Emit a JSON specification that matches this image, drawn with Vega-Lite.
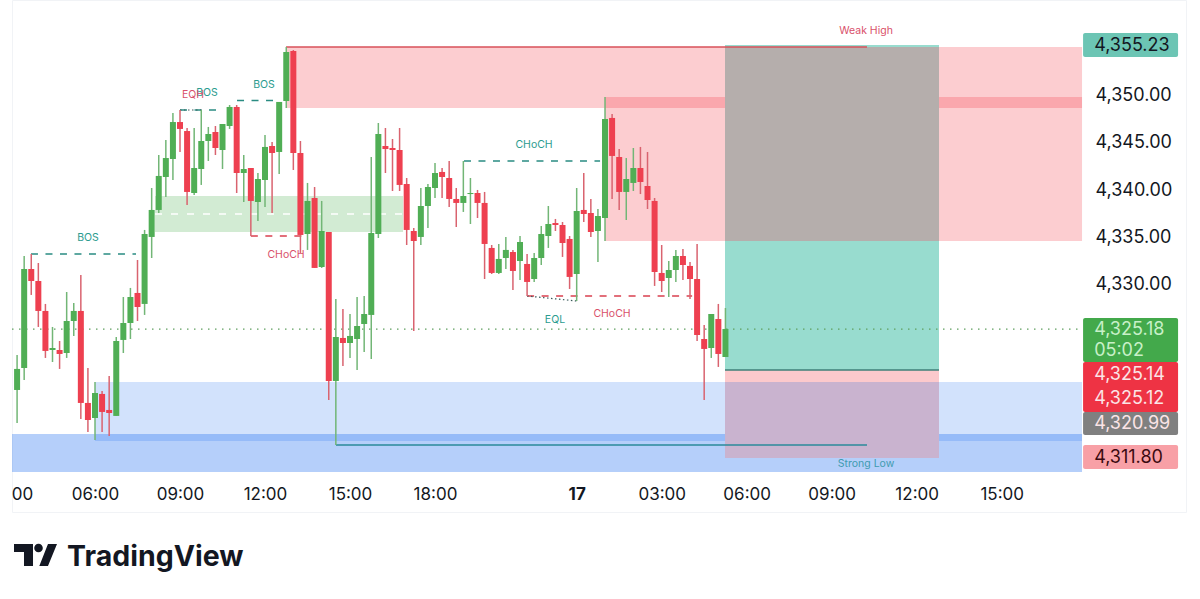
{"$schema":"https://vega.github.io/schema/vega-lite/v6.json","width":1174,"height":512,"autosize":"none","padding":{"left":12,"top":0,"right":14,"bottom":87},"background":"#ffffff","config":{"view":{"stroke":"#f1f3f6"},"font":"Inter"},
"datasets":{"candles":[
{"b":-11,"o":4318.76,"c":4320.98,"h":4322.45,"l":4315.28},{"b":-10,"o":4321.08,"c":4331.53,"h":4332.9,"l":4319.82},{"b":-9,"o":4331.53,"c":4330.26,"h":4333.11,"l":4328.79},{"b":-8,"o":4330.26,"c":4327.1,"h":4332.16,"l":4325.41},{"b":-7,"o":4327.1,"c":4322.88,"h":4327.84,"l":4322.14},{"b":-6,"o":4322.98,"c":4323.19,"h":4325.41,"l":4321.71},{"b":-5,"o":4322.98,"c":4322.56,"h":4323.93,"l":4320.98},{"b":-4,"o":4322.66,"c":4326.04,"h":4329.1,"l":4322.14},{"b":-3,"o":4326.04,"c":4327.1,"h":4327.94,"l":4324.46},{"b":-2,"o":4327.1,"c":4317.39,"h":4330.9,"l":4315.7},{"b":-1,"o":4317.39,"c":4315.59,"h":4321.08,"l":4314.33},
{"b":0,"o":4315.8,"c":4318.44,"h":4319.6,"l":4313.48},{"b":1,"o":4318.34,"c":4316.44,"h":4318.65,"l":4314.33},{"b":2,"o":4316.65,"c":4316.33,"h":4320.24,"l":4313.9},{"b":3,"o":4316.02,"c":4323.93,"h":4324.35,"l":4316.02},{"b":4,"o":4324.04,"c":4325.83,"h":4328.57,"l":4322.66},{"b":5,"o":4325.83,"c":4328.57,"h":4329.53,"l":4324.14},{"b":6,"o":4329.0,"c":4327.52,"h":4332.48,"l":4326.04},{"b":7,"o":4327.84,"c":4335.22,"h":4335.65,"l":4326.68},{"b":8,"o":4334.91,"c":4337.76,"h":4340.08,"l":4332.69},{"b":9,"o":4337.76,"c":4341.35,"h":4343.56,"l":4337.44},
{"b":10,"o":4341.24,"c":4343.24,"h":4345.14,"l":4339.13},{"b":11,"o":4343.14,"c":4347.04,"h":4348.0,"l":4340.92},{"b":12,"o":4347.04,"c":4346.31,"h":4348.31,"l":4343.88},{"b":13,"o":4346.09,"c":4339.66,"h":4346.41,"l":4338.28},{"b":14,"o":4339.55,"c":4342.19,"h":4346.41,"l":4339.34},{"b":15,"o":4342.08,"c":4345.04,"h":4348.31,"l":4340.4},{"b":16,"o":4345.04,"c":4345.78,"h":4346.52,"l":4342.93},{"b":17,"o":4345.99,"c":4344.3,"h":4346.62,"l":4343.56},{"b":18,"o":4344.09,"c":4346.83,"h":4346.83,"l":4342.08},{"b":19,"o":4346.62,"c":4348.63,"h":4348.84,"l":4346.31},
{"b":20,"o":4348.63,"c":4341.66,"h":4348.84,"l":4339.55},{"b":21,"o":4341.66,"c":4342.08,"h":4343.56,"l":4338.6},{"b":22,"o":4342.19,"c":4338.71,"h":4342.19,"l":4335.01},{"b":23,"o":4338.6,"c":4341.03,"h":4341.66,"l":4336.6},{"b":24,"o":4340.92,"c":4344.41,"h":4345.67,"l":4338.07},{"b":25,"o":4344.51,"c":4343.77,"h":4344.93,"l":4337.44},{"b":26,"o":4343.88,"c":4349.16,"h":4349.16,"l":4341.56},{"b":27,"o":4349.26,"c":4354.43,"h":4354.96,"l":4348.52},{"b":28,"o":4354.54,"c":4343.77,"h":4354.64,"l":4341.98},{"b":29,"o":4343.77,"c":4335.12,"h":4345.04,"l":4333.22},
{"b":30,"o":4335.22,"c":4338.71,"h":4340.61,"l":4333.54},{"b":31,"o":4339.02,"c":4331.64,"h":4340.18,"l":4331.64},{"b":32,"o":4331.74,"c":4335.54,"h":4338.71,"l":4331.64},{"b":33,"o":4335.43,"c":4319.71,"h":4335.43,"l":4317.7},{"b":34,"o":4319.71,"c":4324.35,"h":4328.36,"l":4312.96},{"b":35,"o":4324.25,"c":4323.72,"h":4327.31,"l":4321.29},{"b":36,"o":4323.72,"c":4324.46,"h":4326.78,"l":4322.14},{"b":37,"o":4324.14,"c":4325.51,"h":4328.57,"l":4320.87},{"b":38,"o":4325.72,"c":4326.78,"h":4328.68,"l":4322.77},{"b":39,"o":4326.68,"c":4335.33,"h":4343.35,"l":4322.03},
{"b":40,"o":4335.22,"c":4345.78,"h":4346.94,"l":4334.8},{"b":41,"o":4344.51,"c":4344.19,"h":4346.41,"l":4341.66},{"b":42,"o":4344.3,"c":4344.09,"h":4345.25,"l":4339.76},{"b":43,"o":4344.09,"c":4340.4,"h":4346.41,"l":4339.76},{"b":44,"o":4340.5,"c":4335.65,"h":4341.13,"l":4334.06},{"b":45,"o":4335.54,"c":4334.48,"h":4335.86,"l":4324.99},{"b":46,"o":4334.91,"c":4338.18,"h":4340.08,"l":4334.06},{"b":47,"o":4338.18,"c":4340.18,"h":4340.5,"l":4335.86},{"b":48,"o":4340.08,"c":4341.66,"h":4342.72,"l":4339.02},{"b":49,"o":4341.77,"c":4341.24,"h":4342.19,"l":4339.02},
{"b":50,"o":4341.13,"c":4338.92,"h":4342.93,"l":4338.07},{"b":51,"o":4338.92,"c":4338.5,"h":4340.08,"l":4335.96},{"b":52,"o":4338.5,"c":4339.23,"h":4342.93,"l":4337.55},{"b":53,"o":4339.44,"c":4339.55,"h":4341.13,"l":4336.28},{"b":54,"o":4339.55,"c":4338.5,"h":4339.87,"l":4336.91},{"b":55,"o":4338.5,"c":4334.17,"h":4339.66,"l":4330.47},{"b":56,"o":4333.75,"c":4331.11,"h":4334.06,"l":4331.0},{"b":57,"o":4331.11,"c":4332.59,"h":4334.17,"l":4331.0},{"b":58,"o":4332.69,"c":4333.54,"h":4334.91,"l":4331.53},{"b":59,"o":4333.32,"c":4331.32,"h":4333.54,"l":4329.31},
{"b":60,"o":4332.37,"c":4334.38,"h":4335.01,"l":4330.37},{"b":61,"o":4332.06,"c":4330.16,"h":4333.11,"l":4328.68},{"b":62,"o":4330.47,"c":4332.69,"h":4333.22,"l":4330.16},{"b":63,"o":4332.69,"c":4335.22,"h":4336.07,"l":4331.95},{"b":64,"o":4335.01,"c":4336.28,"h":4338.18,"l":4333.75},{"b":65,"o":4336.38,"c":4336.17,"h":4336.81,"l":4335.54},{"b":66,"o":4336.17,"c":4334.27,"h":4336.49,"l":4332.8},{"b":67,"o":4334.7,"c":4330.69,"h":4335.01,"l":4329.42},{"b":68,"o":4331.0,"c":4337.65,"h":4340.08,"l":4328.15},{"b":69,"o":4337.76,"c":4337.33,"h":4341.66,"l":4336.49},
{"b":70,"o":4337.44,"c":4335.43,"h":4338.92,"l":4334.91},{"b":71,"o":4335.54,"c":4337.12,"h":4337.86,"l":4332.27},{"b":72,"o":4336.91,"c":4347.36,"h":4349.68,"l":4334.48},{"b":73,"o":4347.47,"c":4343.46,"h":4347.89,"l":4338.92},{"b":74,"o":4343.35,"c":4339.66,"h":4344.19,"l":4337.76},{"b":75,"o":4339.66,"c":4341.03,"h":4343.24,"l":4336.7},{"b":76,"o":4340.61,"c":4342.19,"h":4344.3,"l":4339.76},{"b":77,"o":4342.19,"c":4340.71,"h":4344.41,"l":4339.44},{"b":78,"o":4340.29,"c":4338.81,"h":4343.88,"l":4337.86},{"b":79,"o":4338.71,"c":4331.21,"h":4339.02,"l":4329.74},
{"b":80,"o":4331.11,"c":4330.26,"h":4334.06,"l":4329.1},{"b":81,"o":4330.58,"c":4331.42,"h":4332.37,"l":4328.57},{"b":82,"o":4331.42,"c":4332.9,"h":4333.54,"l":4330.16},{"b":83,"o":4332.9,"c":4331.95,"h":4333.64,"l":4330.37},{"b":84,"o":4331.85,"c":4330.47,"h":4332.27,"l":4328.36},{"b":85,"o":4330.47,"c":4324.56,"h":4334.17,"l":4323.93},{"b":86,"o":4324.14,"c":4323.09,"h":4325.62,"l":4317.7},{"b":87,"o":4323.19,"c":4326.78,"h":4326.78,"l":4322.14},{"b":88,"o":4326.25,"c":4322.56,"h":4327.84,"l":4321.19},{"b":89,"o":4322.24,"c":4325.2,"h":4327.41,"l":4322.24}
],
"boxes":[
{"z":"demandB","b":-11.718,"b2":139.34,"p":4314.12,"p2":4310.11},
{"z":"demandA","b":0,"b2":139.34,"p":4319.6,"p2":4313.38},
{"z":"supply","b":26.97,"b2":139.34,"p":4354.96,"p2":4348.52},
{"z":"supply","b":72,"b2":139.34,"p":4349.68,"p2":4334.48},
{"z":"fvg","b":8.47,"b2":43.48,"p":4339.23,"p2":4335.43},
{"z":"target","b":88.94,"b2":119.15,"p":4355.17,"p2":4354.96},
{"z":"overlapTop","b":88.94,"b2":119.15,"p":4354.96,"p2":4334.48},
{"z":"target","b":88.94,"b2":119.15,"p":4334.48,"p2":4320.87},
{"z":"stop","b":88.94,"b2":119.15,"p":4320.87,"p2":4319.6},
{"z":"overlapLow","b":88.94,"b2":119.15,"p":4319.6,"p2":4311.58}
],
"tags":[
{"z":"tagTeal","b":139.49,"b2":152.9,"p":4356.44,"p2":4353.9},
{"z":"tagGreen","b":139.49,"b2":152.9,"p":4326.36,"p2":4321.71},
{"z":"tagRed","b":139.49,"b2":152.9,"p":4321.71,"p2":4316.44},
{"z":"tagGrey","b":139.49,"b2":152.9,"p":4316.44,"p2":4314.01},
{"z":"tagPink","b":139.49,"b2":152.9,"p":4312.96,"p2":4310.42}
],
"tagText":[
{"z":"txtDark","b":141.05,"p":4355.17,"t":"4,355.23"},
{"z":"txtMint","b":141.05,"p":4325.2,"t":"4,325.18"},
{"z":"txtMint","b":141.05,"p":4322.98,"t":"05:02"},
{"z":"txtPale","b":141.05,"p":4320.45,"t":"4,325.14"},
{"z":"txtPale","b":141.05,"p":4317.92,"t":"4,325.12"},
{"z":"txtPale","b":141.05,"p":4315.28,"t":"4,320.99"},
{"z":"txtBrown","b":141.05,"p":4311.69,"t":"4,311.80"}
]},
"encoding":{
"x":{"field":"b","type":"quantitative","scale":{"domain":[-11.718,154.02],"nice":false,"zero":false,"padding":0},"axis":{"title":null,"orient":"bottom","offset":-26,"labelPadding":0,"ticks":false,"domain":false,"grid":false,"values":[-10.3,0,12,24,36,48,68,80,92,104,116,128],"labelExpr":"{'-10.3':'00','0':'06:00','12':'09:00','24':'12:00','36':'15:00','48':'18:00','68':'17','80':'03:00','92':'06:00','104':'09:00','116':'12:00','128':'15:00'}[datum.value]","labelFont":"Inter","labelFontSize":17,"labelColor":"#131722","labelFontWeight":{"condition":{"test":"datum.value===68","value":700},"value":400},"labelOverlap":false,"labelFlush":false}},
"y":{"field":"p","type":"quantitative","scale":{"domain":[4305.88,4359.92],"nice":false,"zero":false},"axis":{"title":null,"orient":"right","offset":-91,"labelPadding":0,"labelAlign":"left","labelOffset":1.5,"ticks":false,"domain":false,"grid":false,"values":[4330,4335,4340,4345,4350,4360],"format":",.2f","labelFont":"Inter","labelFontSize":18,"labelColor":"#131722","labelOverlap":false,"labelFlush":false}}
},
"layer":[
{"data":{"name":"boxes"},"mark":{"type":"rect"},"encoding":{"x2":{"field":"b2"},"y2":{"field":"p2"},"color":{"field":"z","type":"nominal","legend":null,"scale":{"domain":["demandB","demandA","supply","fvg","target","overlapTop","stop","overlapLow","tagTeal","tagGreen","tagRed","tagGrey","tagPink","txtDark","txtMint","txtPale","txtBrown"],"range":["rgba(30,110,240,0.33)","rgba(30,110,240,0.2)","rgba(242,54,69,0.25)","rgba(76,175,80,0.25)","#98dccf","#b5aeac","#fcc9cc","#c9b3cf","#6cc5b4","#43a94b","#ee3344","#808080","#f8a0a6","#131722","#c8f0c8","#fbe4e6","#3a0a10"]}}}},
{"data":{"values":[{"b":8.47,"b2":43.48,"p":4337.33}]},"mark":{"type":"rule","color":"#ffffff","strokeWidth":1.5,"strokeDash":[7,9]},"encoding":{"x2":{"field":"b2"}}},
{"data":{"values":[{"b":-11.718,"b2":139.34,"p":4325.18}]},"mark":{"type":"rule","color":"#5f9f5f","strokeWidth":1.3,"strokeDash":[1.5,5.5]},"encoding":{"x2":{"field":"b2"}}},
{"data":{"values":[{"b":-9.04,"b2":5.79,"p":4333.11},{"b":12,"b2":17.65,"p":4348.31},{"b":20.05,"b2":25.98,"p":4349.31},{"b":52.09,"b2":71.3,"p":4342.93}]},"mark":{"type":"rule","color":"#2a8c82","strokeWidth":1.5,"strokeDash":[7,7.5]},"encoding":{"x2":{"field":"b2"}}},
{"data":{"values":[{"b":22,"b2":29.65,"p":4335.01},{"b":61,"b2":84.3,"p":4328.68}]},"mark":{"type":"rule","color":"#d9404f","strokeWidth":1.5,"strokeDash":[7,7.5]},"encoding":{"x2":{"field":"b2"}}},
{"data":{"values":[{"b":12,"b2":15.25,"p":4348.31}]},"mark":{"type":"rule","color":"#3a5a5a","strokeWidth":1.2,"strokeDash":[1.5,2.5]},"encoding":{"x2":{"field":"b2"}}},
{"data":{"values":[{"b":61,"b2":68.05,"p":4328.68,"p2":4328.15}]},"mark":{"type":"rule","color":"#3a5a5a","strokeWidth":1.2,"strokeDash":[1.5,2.5]},"encoding":{"x2":{"field":"b2"},"y2":{"field":"p2"}}},
{"data":{"values":[{"b":26.97,"b2":108.99,"p":4354.96}]},"mark":{"type":"rule","color":"#d9505a","strokeWidth":1.5},"encoding":{"x2":{"field":"b2"}}},
{"data":{"values":[{"b":34.02,"b2":108.99,"p":4312.96}]},"mark":{"type":"rule","color":"#2a8a9a","strokeWidth":1.5},"encoding":{"x2":{"field":"b2"}}},
{"data":{"values":[{"b":88.94,"b2":119.15,"p":4320.87}]},"mark":{"type":"rule","color":"#3f7f78","strokeWidth":1.5},"encoding":{"x2":{"field":"b2"}}},
{"data":{"name":"candles"},"mark":{"type":"rule","strokeWidth":1.5},"encoding":{"y":{"field":"h","type":"quantitative","scale":{"domain":[4305.88,4359.92],"nice":false,"zero":false}},"y2":{"field":"l"},"color":{"condition":{"test":"datum.c>=datum.o","value":"#72b676"},"value":"#d9636f"}}},
{"data":{"name":"candles"},"mark":{"type":"bar","size":6},"encoding":{"y":{"field":"o","type":"quantitative","scale":{"domain":[4305.88,4359.92],"nice":false,"zero":false}},"y2":{"field":"c"},"color":{"condition":{"test":"datum.c>=datum.o","value":"#50ae55"},"value":"#ee4050"}}},
{"data":{"name":"tags"},"mark":{"type":"rect","cornerRadius":2},"encoding":{"x2":{"field":"b2"},"y2":{"field":"p2"},"color":{"field":"z","type":"nominal","legend":null}}},
{"data":{"name":"tagText"},"mark":{"type":"text","align":"left","baseline":"middle","fontSize":18,"font":"Inter","dy":1},"encoding":{"text":{"field":"t"},"color":{"field":"z","type":"nominal","legend":null}}},
{"data":{"values":[{"b":-0.99,"p":4334.8,"t":"BOS"},{"b":15.81,"p":4350.1,"t":"BOS"},{"b":23.86,"p":4350.95,"t":"BOS"},{"b":61.98,"p":4344.62,"t":"CHoCH"},{"b":64.94,"p":4326.15,"t":"EQL"}]},"mark":{"type":"text","fontSize":10.5,"font":"Inter","color":"#2b9c8f","baseline":"middle","align":"center"},"encoding":{"text":{"field":"t"}}},
{"data":{"values":[{"b":13.84,"p":4349.89,"t":"EQH"},{"b":26.97,"p":4333.01,"t":"CHoCH"},{"b":72.99,"p":4326.78,"t":"CHoCH"},{"b":108.85,"p":4356.65,"t":"Weak High"}]},"mark":{"type":"text","fontSize":10.5,"font":"Inter","color":"#d9506a","baseline":"middle","align":"center"},"encoding":{"text":{"field":"t"}}},
{"data":{"values":[{"b":108.85,"p":4310.95,"t":"Strong Low"}]},"mark":{"type":"text","fontSize":10.5,"font":"Inter","color":"#3f9bb0","baseline":"middle","align":"center"},"encoding":{"text":{"field":"t"}}},
{"data":{"values":[{"b":-3.95,"p":4301.13,"t":"TradingView"}]},"mark":{"type":"text","fontSize":28.5,"fontWeight":700,"font":"Inter","color":"#131722","baseline":"middle","align":"left"},"encoding":{"text":{"field":"t"}}},
{"data":{"values":[{"b":-8.4,"p":4301.35}]},"mark":{"type":"point","filled":true,"opacity":1,"size":1849,"color":"#131722","shape":"M-1,-0.51 L-0.116,-0.51 L-0.116,0.51 L-0.535,0.51 L-0.535,-0.14 L-1,-0.14 Z M0.58,-0.51 L1,-0.51 L0.58,0.51 L0.177,0.51 Z M0.34,-0.32 A0.2,0.2 0 1 1 -0.06,-0.32 A0.2,0.2 0 1 1 0.34,-0.32 Z"}}
]}
